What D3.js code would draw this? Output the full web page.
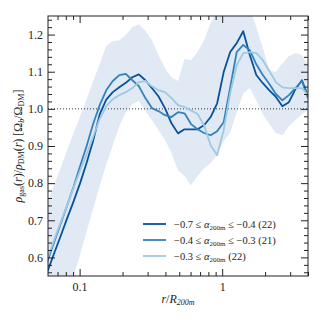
<!DOCTYPE html>
<html>
<head>
<meta charset="utf-8">
<script src="https://d3js.org/d3.v7.min.js"></script>
<style>
body{margin:0;background:#fff;}
text{font-family:"Liberation Serif","DejaVu Serif",serif;fill:#222;}
</style>
</head>
<body>
<svg id="chart" width="325" height="325"></svg>
<script>
// radial bins, r / R200m
var rBins=[0.0595,0.0661,0.0735,0.0817,0.0907,0.1008,0.1120,0.1245,0.1383,0.1537,
  0.1708,0.1898,0.2109,0.2343,0.2603,0.2892,0.3214,0.3571,0.3968,0.4409,
  0.4899,0.5443,0.6048,0.6720,0.7467,0.8298,0.9222,1.0246,1.1384,1.2650,
  1.4055,1.5617,1.7353,1.9282,2.1425,2.3806,2.6452,2.9392,3.2658,3.6287,4.0];

var darkVals=[0.562,0.610,0.657,0.705,0.751,0.800,0.855,0.915,0.985,1.025,
  1.045,1.058,1.070,1.085,1.093,1.077,1.056,1.034,1.002,0.961,
  0.934,0.945,0.945,0.945,0.956,0.978,1.015,1.099,1.153,1.177,
  1.209,1.145,1.091,1.069,1.050,1.032,1.007,1.018,1.053,1.077,1.034];
var midVals=[0.590,0.640,0.690,0.740,0.790,0.846,0.900,0.960,1.010,1.050,
  1.075,1.091,1.094,1.077,1.061,1.029,1.002,0.994,0.983,0.978,
  0.991,0.988,0.959,0.945,0.935,0.929,0.940,0.964,1.058,1.153,
  1.172,1.158,1.120,1.091,1.067,1.040,1.023,1.037,1.056,1.075,1.029];
var lightVals=[0.598,0.646,0.694,0.740,0.788,0.834,0.878,0.925,0.973,1.007,
  1.026,1.037,1.045,1.056,1.072,1.075,1.061,1.050,1.045,1.029,
  1.010,1.005,0.996,0.986,0.956,0.902,0.875,0.943,1.042,1.118,
  1.150,1.153,1.150,1.131,1.102,1.072,1.058,1.056,1.056,1.056,1.037];
var bandHi=[0.749,0.794,0.840,0.889,0.934,0.980,1.026,1.075,1.120,1.169,
  1.182,1.185,1.199,1.220,1.228,1.210,1.185,1.145,1.110,1.085,
  1.075,1.135,1.131,1.153,1.185,1.231,1.266,1.307,1.320,1.320,
  1.307,1.271,1.220,1.164,1.104,1.099,1.123,1.142,1.150,1.145,1.118];
var bandLo=[0.301,0.363,0.425,0.487,0.549,0.608,0.670,0.732,0.792,0.851,
  0.902,0.953,0.991,1.013,1.021,0.994,0.970,0.943,0.916,0.881,
  0.835,0.819,0.794,0.819,0.840,0.854,0.875,0.913,0.935,0.991,
  1.042,1.056,1.023,0.986,0.959,0.935,0.929,0.953,0.970,0.986,0.996];

var seriesNames=[["\u22120.7 \u2264 ","\u03b1","200m"," \u2264 \u22120.4 (22)"],
  ["\u22120.4 \u2264 ","\u03b1","200m"," \u2264 \u22120.3 (21)"],
  ["\u22120.3 \u2264 ","\u03b1","200m"," (22)"]];
var seriesColors=["#08519c","#3182bd","#9ecae1"];
var yTicks=[0.6,0.7,0.8,0.9,1.0,1.1,1.2];
var xTicks=[0.1,1];
var xMinor=[0.07,0.08,0.09,0.2,0.3,0.4,0.5,0.6,0.7,0.8,0.9,2,3,4];

var margin={top:16,left:48},width=260,height=260;
var svg=d3.select("#chart");
var g=svg.append("g").attr("transform","translate("+margin.left+","+margin.top+")");

var x=d3.scaleLog().domain([0.06,4]).range([0,width]);
var y=d3.scaleLinear().domain([0.55,1.25]).range([height,0]);
var yMinor=d3.range(0.56,1.25,0.02).filter(v=>Math.abs(Math.round(v*10)-v*10)>0.01);

g.append("clipPath").attr("id","clip").append("rect").attr("width",width).attr("height",height);
var plot=g.append("g").attr("clip-path","url(#clip)");

var area=d3.area().x((d,i)=>x(rBins[i])).y0(d=>y(d[0])).y1(d=>y(d[1]));
plot.append("path").datum(bandLo.map((v,i)=>[v,bandHi[i]]))
  .attr("d",area).attr("fill","#e1e9f4");

plot.append("line").attr("x1",0).attr("x2",width).attr("y1",y(1)).attr("y2",y(1))
  .attr("stroke","#333").attr("stroke-width",1).attr("stroke-dasharray","1,2");

var line=d3.line().x((d,i)=>x(rBins[i])).y(d=>y(d));
[darkVals,midVals,lightVals].forEach(function(vals,k){
  plot.append("path").datum(vals).attr("d",line).attr("fill","none")
    .attr("stroke",seriesColors[k]).attr("stroke-width",1.8).attr("stroke-linejoin","round");
});

// axes, ticks inward
function styleAxis(sel){ sel.select(".domain").remove(); sel.selectAll("line").attr("stroke","#222"); sel.selectAll("text").attr("font-size",12).attr("font-family",null); sel.attr("font-family",null); }
g.append("g").attr("transform","translate(0,"+height+")")
  .call(d3.axisBottom(x).tickValues(xTicks).tickFormat(d=>d==1?"1":"0.1").tickSize(-7).tickPadding(6)).call(styleAxis);
g.append("g").attr("transform","translate(0,"+height+")")
  .call(d3.axisBottom(x).tickValues(xMinor).tickFormat("").tickSize(-4)).call(styleAxis);
g.append("g").call(d3.axisTop(x).tickValues(xTicks).tickFormat("").tickSize(-7)).call(styleAxis);
g.append("g").call(d3.axisTop(x).tickValues(xMinor).tickFormat("").tickSize(-4)).call(styleAxis);
g.append("g").call(d3.axisLeft(y).tickValues(yTicks).tickFormat(d3.format(".1f")).tickSize(-7).tickPadding(5)).call(styleAxis);
g.append("g").call(d3.axisLeft(y).tickValues(yMinor).tickFormat("").tickSize(-4)).call(styleAxis);
g.append("g").attr("transform","translate("+width+",0)").call(d3.axisRight(y).tickValues(yTicks).tickFormat("").tickSize(-7)).call(styleAxis);
g.append("g").attr("transform","translate("+width+",0)").call(d3.axisRight(y).tickValues(yMinor).tickFormat("").tickSize(-4)).call(styleAxis);
g.append("rect").attr("width",width).attr("height",height).attr("fill","none").attr("stroke","#222").attr("stroke-width",1);

// legend
var leg=g.append("g").attr("transform","translate(95,208)");
seriesNames.forEach(function(parts,k){
  var row=leg.append("g").attr("transform","translate(0,"+(k*16)+")");
  row.append("line").attr("x1",0).attr("x2",23).attr("stroke",seriesColors[k]).attr("stroke-width",1.8);
  var t=row.append("text").attr("x",31).attr("y",4).attr("font-size",10.5);
  t.append("tspan").text(parts[0]);
  t.append("tspan").attr("font-style","italic").text(parts[1]);
  t.append("tspan").attr("font-size",7).attr("dy",2).text(parts[2]);
  t.append("tspan").attr("dy",-2).text(parts[3]);
});

// axis labels
var xl=svg.append("text").attr("x",178).attr("y",303).attr("text-anchor","middle").attr("font-size",12);
xl.append("tspan").attr("font-style","italic").text("r");
xl.append("tspan").text("/");
xl.append("tspan").attr("font-style","italic").text("R");
xl.append("tspan").attr("font-size",8).attr("dy",2).attr("font-style","italic").text("200m");

var yl=svg.append("text").attr("transform","translate(22,146) rotate(-90)").attr("text-anchor","middle").attr("font-size",12);
yl.append("tspan").attr("font-style","italic").text("\u03c1");
yl.append("tspan").attr("font-size",8).attr("dy",2).text("gas");
yl.append("tspan").attr("dy",-2).text("(");
yl.append("tspan").attr("font-style","italic").text("r");
yl.append("tspan").text(")/");
yl.append("tspan").attr("font-style","italic").text("\u03c1");
yl.append("tspan").attr("font-size",8).attr("dy",2).text("DM");
yl.append("tspan").attr("dy",-2).text("(");
yl.append("tspan").attr("font-style","italic").text("r");
yl.append("tspan").text(") [\u03a9");
yl.append("tspan").attr("font-size",8).attr("dy",2).attr("font-style","italic").text("b");
yl.append("tspan").attr("dy",-2).text("/\u03a9");
yl.append("tspan").attr("font-size",8).attr("dy",2).text("DM");
yl.append("tspan").attr("dy",-2).text("]");
</script>
</body>
</html>
